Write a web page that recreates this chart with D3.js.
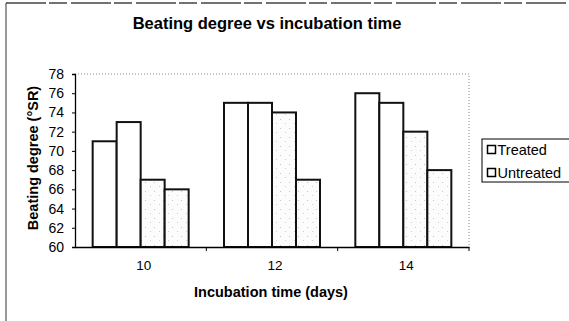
<!DOCTYPE html>
<html><head><meta charset="utf-8">
<script src="https://cdn.jsdelivr.net/npm/d3@7"></script>
<style>body{margin:0;background:#fff}svg{display:block;font-family:"Liberation Sans",Arial,sans-serif}</style>
</head><body><svg id="c" width="569" height="321"></svg>
<script>
const categories = ["10", "12", "14"];
const seriesNames = ["Treated", "Treated", "Untreated", "Untreated"];
const barValues = [
  [71, 73, 67, 66],
  [75, 75, 74, 67],
  [76, 75, 72, 68]
];
const yTicks = [60, 62, 64, 66, 68, 70, 72, 74, 76, 78];
const legendItems = ["Treated", "Untreated"];

const svg = d3.select("#c");
const defs = svg.append("defs");
const pat = defs.append("pattern").attr("id", "stip").attr("patternUnits", "userSpaceOnUse")
  .attr("width", 9).attr("height", 9);
pat.append("rect").attr("width", 9).attr("height", 9).attr("fill", "#fcfcfc");
pat.append("rect").attr("x", 1).attr("y", 2).attr("width", 1).attr("height", 1).attr("fill", "#c4c4c4");
pat.append("rect").attr("x", 6).attr("y", 6).attr("width", 1).attr("height", 1).attr("fill", "#d0d0d0");

// outer border
svg.append("line").attr("x1", 6).attr("x2", 569).attr("y1", 3).attr("y2", 3)
  .attr("stroke", "#444").attr("stroke-width", 1.5).attr("stroke-dasharray", "40,3,18,4");
svg.append("line").attr("x1", 6).attr("x2", 6).attr("y1", 3).attr("y2", 321)
  .attr("stroke", "#555").attr("stroke-width", 1.2);

const x0 = 75, x1 = 469, yTop = 74, yBot = 247;
const x = d3.scaleBand().domain(categories).range([x0, x1]).paddingInner(0.269).paddingOuter(0.1345);
const xs = d3.scaleBand().domain(d3.range(4)).range([0, x.bandwidth()]);
const y = d3.scaleLinear().domain([60, 78]).range([yBot, yTop]);

// plot area dotted border (top & right)
svg.append("path").attr("d", `M${x0},${yTop}H${x1}V${yBot}`)
  .attr("fill", "none").attr("stroke", "#888").attr("stroke-dasharray", "1,2");

// bars
categories.forEach((c, i) => {
  barValues[i].forEach((v, j) => {
    svg.append("rect")
      .attr("x", x(c) + xs(j)).attr("y", y(v))
      .attr("width", xs.bandwidth()).attr("height", y(60) - y(v))
      .attr("fill", seriesNames[j] === "Treated" ? "#fff" : "url(#stip)")
      .attr("stroke", "#111").attr("stroke-width", 2);
  });
});

// y axis
const yAxis = d3.axisLeft(y).tickValues(yTicks).tickSize(3).tickPadding(8);
const gy = svg.append("g").attr("transform", `translate(${x0},0)`).call(yAxis);
gy.select(".domain").attr("stroke", "#000").attr("stroke-width", 1.3);
gy.selectAll("text").attr("font-size", 14).attr("fill", "#000");

// x axis
const xAxis = d3.axisBottom(x).tickSize(0).tickPadding(13);
const gx = svg.append("g").attr("transform", `translate(0,${yBot})`).call(xAxis);
gx.select(".domain").attr("stroke", "#000").attr("stroke-width", 1.3);
gx.selectAll("text").attr("font-size", 13.5).attr("fill", "#000").attr("dx", 3);
// category separator ticks
const seps = [x.domain()[1], x.domain()[2]].map(c => x(c) - x.step() * x.paddingInner() / 2);
seps.concat([x1]).forEach(s => {
  svg.append("line").attr("x1", s).attr("x2", s).attr("y1", yBot).attr("y2", yBot + 4)
    .attr("stroke", "#000");
});

// title
svg.append("text").attr("x", 267).attr("y", 29).attr("text-anchor", "middle")
  .attr("font-size", 16.5).attr("font-weight", "bold").text("Beating degree vs incubation time");
// axis titles
svg.append("text").attr("transform", "translate(38,158) rotate(-90)").attr("text-anchor", "middle")
  .attr("font-size", 14.5).attr("font-weight", "bold").text("Beating degree (°SR)");
svg.append("text").attr("x", 271).attr("y", 297).attr("text-anchor", "middle")
  .attr("font-size", 14.5).attr("font-weight", "bold").text("Incubation time (days)");

// legend
svg.append("rect").attr("x", 482).attr("y", 139).attr("width", 100).attr("height", 43)
  .attr("fill", "#fff").attr("stroke", "#000");
legendItems.forEach((name, i) => {
  const cy = 150 + i * 23;
  svg.append("rect").attr("x", 487.5).attr("y", cy - 4.5).attr("width", 8).attr("height", 8)
    .attr("fill", name === "Treated" ? "#fff" : "url(#stip)").attr("stroke", "#000").attr("stroke-width", 1.5);
  svg.append("text").attr("x", 497.5).attr("y", cy + 5).attr("font-size", 14.5).text(name);
});
</script></body></html>
